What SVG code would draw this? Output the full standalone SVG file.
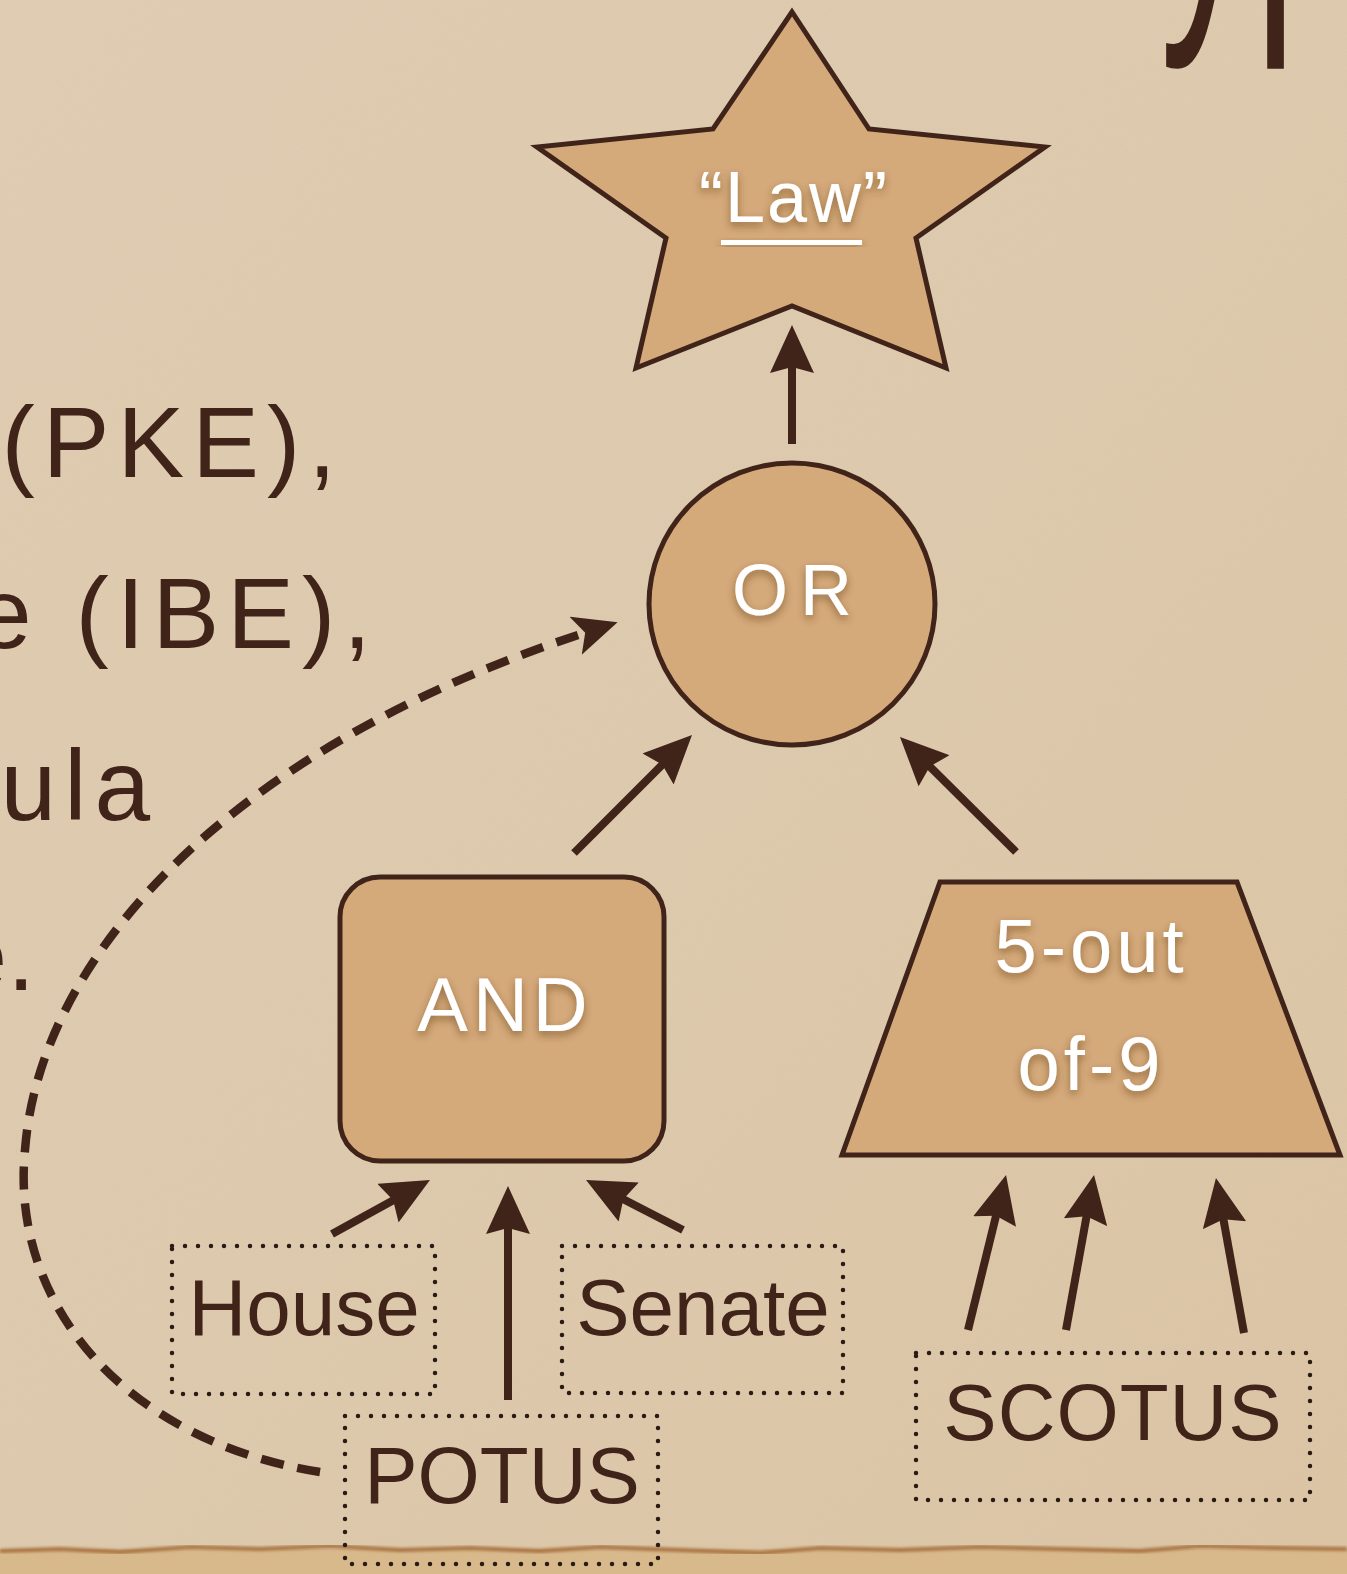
<svg xmlns="http://www.w3.org/2000/svg" width="1347" height="1574" viewBox="0 0 1347 1574">
  <defs>
    <style>
      .bgtext { font-family: "Liberation Sans", Arial, sans-serif; fill: #40241a; }
      .node { fill: #d5aa7b; stroke: #40241a; stroke-width: 5; stroke-linejoin: miter; }
      .lbl { font-family: "Liberation Sans", Arial, sans-serif; fill: #ffffff; text-anchor: middle; filter: url(#shadow); }
      .leaf { fill: none; stroke: #2a1a14; stroke-width: 4.5; stroke-dasharray: 0 13; stroke-linecap: round; }
      .leaftxt { font-family: "Liberation Sans", Arial, sans-serif; fill: #40241a; text-anchor: middle; font-size: 80px; }
      .edge { fill: none; stroke: #40241a; stroke-width: 8; marker-end: url(#head); }
      .dashed { fill: none; stroke: #40241a; stroke-width: 8.5; stroke-dasharray: 23 14; marker-end: url(#headd); }
    </style>
    <marker id="head" markerUnits="userSpaceOnUse" markerWidth="48" markerHeight="44" refX="18" refY="22" orient="auto">
      <path d="M0,0 L48,22 L0,44 L6,22 Z" fill="#40241a"/>
    </marker>
    <marker id="headd" markerUnits="userSpaceOnUse" markerWidth="44" markerHeight="40" refX="14" refY="20" orient="auto">
      <path d="M0,0 L44,20 L0,40 L10,20 Z" fill="#40241a"/>
    </marker>
    <filter id="shadow" x="-20%" y="-30%" width="140%" height="170%">
      <feDropShadow dx="0" dy="4" stdDeviation="4" flood-color="#5a3418" flood-opacity="0.55"/>
    </filter>
    <filter id="grain" x="0" y="0" width="100%" height="100%">
      <feTurbulence type="fractalNoise" baseFrequency="0.9" numOctaves="2" seed="3" result="n"/>
      <feColorMatrix type="matrix" values="0 0 0 0 0.45  0 0 0 0 0.33  0 0 0 0 0.2  0 0 0 0.09 0"/>
    </filter>
    <filter id="blur2"><feGaussianBlur stdDeviation="1.6"/></filter>
    <linearGradient id="bg" x1="0" y1="0" x2="1" y2="1">
      <stop offset="0" stop-color="#e1ceb4"/>
      <stop offset="0.5" stop-color="#dfcbaf"/>
      <stop offset="1" stop-color="#dcc6a6"/>
    </linearGradient>
  </defs>

  <g id="background">
    <rect x="0" y="0" width="1347" height="1574" fill="url(#bg)"/>
    <rect x="0" y="0" width="1347" height="1574" filter="url(#grain)"/>
    <rect x="0" y="1549" width="1347" height="25" fill="#d8b98b"/>
    <path d="M0,1551 L60,1549 L120,1552 L190,1547 L260,1549 L330,1546 L400,1550 L470,1548 L540,1551 L600,1547 L680,1550 L760,1553 L820,1548 L900,1550 L980,1547 L1060,1549 L1140,1551 L1200,1546 L1280,1548 L1347,1549" fill="none" stroke="#a8723f" stroke-width="4" filter="url(#blur2)"/>
  </g>

  <g id="slide-text">
    <text class="bgtext" transform="translate(1160,-6) scale(1.05,2)" x="0" y="0" font-size="180">yp</text>
    <text class="bgtext" x="344" y="477" font-size="100" letter-spacing="8" text-anchor="end">(PKE),</text>
    <text class="bgtext" x="379" y="648" font-size="100" letter-spacing="8" text-anchor="end">e (IBE),</text>
    <text class="bgtext" x="158" y="820" font-size="100" letter-spacing="8" text-anchor="end">ula</text>
    <text class="bgtext" x="35" y="990" font-size="100" text-anchor="end">e.</text>
  </g>

  <g id="connectors">
    <line class="edge" x1="792" y1="444" x2="792" y2="355"/>
    <line class="edge" x1="574" y1="853" x2="670.8" y2="756.2"/>
    <line class="edge" x1="1016" y1="852" x2="921.3" y2="758.1"/>
    <line class="edge" x1="332" y1="1234" x2="403.7" y2="1194.5"/>
    <line class="edge" x1="508" y1="1400" x2="508" y2="1216"/>
    <line class="edge" x1="683" y1="1230" x2="612.7" y2="1193.7"/>
    <line class="edge" x1="968" y1="1330" x2="998.9" y2="1204.1"/>
    <line class="edge" x1="1066" y1="1330" x2="1088.7" y2="1204.5"/>
    <line class="edge" x1="1244" y1="1333" x2="1221.3" y2="1207.5"/>
    <path class="dashed" d="M320,1472 C120,1440 10,1300 25,1150 C40,950 240,743 589,631.5"/>
  </g>

  <g id="node-law">
    <polygon class="node" points="792,12 713,129 537,147 666,238 636,368 792,306 946,368 916,238 1045,147 869,129"/>
    <text class="lbl" x="794" y="222" font-size="72" letter-spacing="2">“Law”</text>
    <rect x="721" y="240" width="141" height="5" fill="#ffffff" filter="url(#shadow)"/>
  </g>

  <g id="node-or">
    <ellipse class="node" cx="792" cy="604" rx="143" ry="141"/>
    <text class="lbl" x="798" y="615" font-size="72" letter-spacing="12">OR</text>
  </g>

  <g id="node-and">
    <rect class="node" x="340" y="877" width="324" height="284" rx="40" ry="40"/>
    <text class="lbl" x="505" y="1031" font-size="76" letter-spacing="5">AND</text>
  </g>

  <g id="node-5of9">
    <polygon class="node" points="940,882 1237,882 1340,1155 842,1155"/>
    <text class="lbl" x="1091" y="972" font-size="76" letter-spacing="4">5-out</text>
    <text class="lbl" x="1091" y="1090" font-size="76" letter-spacing="4">of-9</text>
  </g>

  <g id="node-house">
    <rect class="leaf" x="172" y="1246" width="263" height="148"/>
    <text class="leaftxt" x="304" y="1335">House</text>
  </g>

  <g id="node-senate">
    <rect class="leaf" x="562" y="1246" width="281" height="147"/>
    <text class="leaftxt" x="703" y="1335">Senate</text>
  </g>

  <g id="node-potus">
    <rect class="leaf" x="345" y="1416" width="313" height="148"/>
    <text class="leaftxt" x="502" y="1503">POTUS</text>
  </g>

  <g id="node-scotus">
    <rect class="leaf" x="916" y="1353" width="394" height="147"/>
    <text class="leaftxt" x="1113" y="1440" font-size="82" letter-spacing="1">SCOTUS</text>
  </g>
</svg>
